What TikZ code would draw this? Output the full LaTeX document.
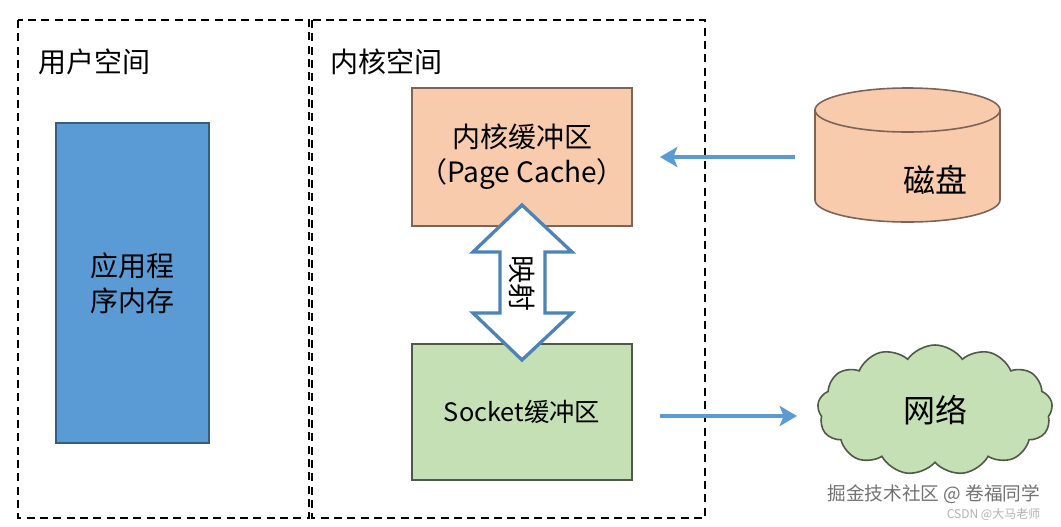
\documentclass[tikz,border=0pt]{standalone}
\usepackage{fontspec}
\newfontfamily\cjk{Noto Sans CJK SC}
\usetikzlibrary{shapes.symbols,arrows.meta}
\definecolor{blu}{HTML}{5B9BD5}
\definecolor{org}{HTML}{F8CBAD}
\definecolor{grn}{HTML}{C5E0B4}
\begin{document}
\begin{tikzpicture}[x=0.75pt,y=-0.75pt,
  dbox/.style={draw=black,dashed,line width=1.2pt,dash pattern=on 6pt off 4pt},
  lbl/.style={font=\cjk\fontsize{21}{26}\selectfont},
  flow/.style={draw=blu,line width=2.6pt,-{Stealth[length=13pt,width=15pt,inset=3pt]}}]
\useasboundingbox (0,0) rectangle (1061,526);
\fill[white] (0,0) rectangle (1061,526);
\draw[dbox] (18,20) rectangle (309,518);
\draw[dbox] (312,20) rectangle (705,518);
\node[lbl,anchor=west] (t1) at (34,62) {用户空间};
\node[lbl,anchor=west] (t2) at (326,62) {内核空间};
\node[fill=blu,draw=blu!60!black,line width=1.2pt,minimum width=153*0.75pt,minimum height=320*0.75pt] (app) at (132.5,283) {};
\node[lbl,align=center] at (app) {应用程\\序内存};
\node[fill=org,draw=org!50!black,line width=1.2pt,minimum width=220*0.75pt,minimum height=138*0.75pt,lbl,align=center] (pc) at (522,157) {内核缓冲区\\（Page Cache）};
\node[fill=grn,draw=grn!40!black,line width=1.2pt,minimum width=220*0.75pt,minimum height=136*0.75pt,font=\cjk\fontsize{19}{22}\selectfont] (sock) at (522,412) {Socket缓冲区};
\draw[fill=white,draw=blu!85!black,line width=2.5pt,line join=miter]
 (522,205)--(572,252)--(545,252)--(545,313)--(572,313)--(522,360)--(473,313)--(500,313)--(500,252)--(473,252)--cycle;
\node[lbl,rotate=-90] (ys) at (522,283) {映射};
% cylinder
\draw[fill=org,draw=org!50!black,line width=1.2pt] (815,110)--(815,200) arc[start angle=180,end angle=360,x radius=92.5,y radius=-22]--(1000,110)--cycle;
\draw[fill=org,draw=org!50!black,line width=1.2pt] (907.5,110) ellipse[x radius=92.5,y radius=22];
\node[font=\cjk\fontsize{24}{28}\selectfont] (disk) at (935,180) {磁盘};
\node[cloud,cloud puffs=13,cloud puff arc=110,aspect=1.9,fill=grn,draw=grn!40!black,line width=1.2pt,minimum width=235*0.75pt,minimum height=130*0.75pt,font=\cjk\fontsize{24}{28}\selectfont] (net) at (935,410) {网络};
\coordinate (a1) at (795,157); \coordinate (a2) at (660,157);
\coordinate (b1) at (660,416); \coordinate (b2) at (797,416);
\draw[flow] (a1)--(a2);
\draw[flow] (b1)--(b2);
\node[font=\cjk\fontsize{14}{16}\selectfont,text=gray!90!black,anchor=east] (wm) at (1045,494) {掘金技术社区 @ 卷福同学};
\node[font=\cjk\fontsize{9}{11}\selectfont,text=gray!60,anchor=east] (wm2) at (1045,514) {CSDN @大马老师};
\end{tikzpicture}
\end{document}
